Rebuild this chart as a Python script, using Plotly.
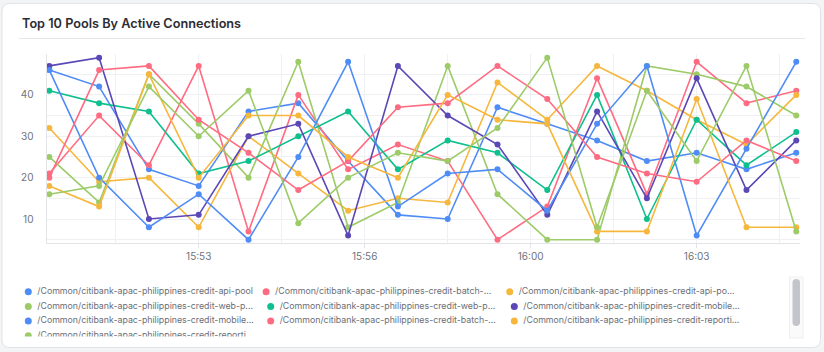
import plotly.graph_objects as go

# ---------------- data ----------------
times = [
    "2024-01-01 15:50:20", "2024-01-01 15:51:20", "2024-01-01 15:52:20", "2024-01-01 15:53:20",
    "2024-01-01 15:54:20", "2024-01-01 15:55:20", "2024-01-01 15:56:20", "2024-01-01 15:57:20",
    "2024-01-01 15:58:20", "2024-01-01 15:59:20", "2024-01-01 16:00:20", "2024-01-01 16:01:20",
    "2024-01-01 16:02:20", "2024-01-01 16:03:20", "2024-01-01 16:04:20", "2024-01-01 16:05:20",
]

series_names = [
    "/Common/citibank-apac-philippines-credit-api-pool",
    "/Common/citibank-apac-philippines-credit-batch-...",
    "/Common/citibank-apac-philippines-credit-api-po...",
    "/Common/citibank-apac-philippines-credit-web-p...",
    "/Common/citibank-apac-philippines-credit-web-p...",
    "/Common/citibank-apac-philippines-credit-mobile...",
    "/Common/citibank-apac-philippines-credit-mobile...",
    "/Common/citibank-apac-philippines-credit-batch-...",
    "/Common/citibank-apac-philippines-credit-reporti...",
    "/Common/citibank-apac-philippines-credit-reporti",
]

s_api_pool     = [46, 42, 22, 18, 36, 38, 24, 11, 10, 37, 33, 29, 24, 26, 22, 26]
s_batch_a      = [21, 35, 23, 47, 7, 40, 22, 28, 24, 5, 13, 44, 16, 48, 38, 41]
s_api_po       = [32, 19, 20, 8, 30, 21, 12, 15, 14, 43, 34, 47, 41, 34, 28, 40]
s_web_a        = [25, 14, 45, 33, 20, 48, 8, 14, 47, 16, 5, 5, 47, 45, 42, 35]
s_web_b        = [41, 38, 36, 21, 24, 30, 36, 22, 29, 26, 17, 40, 10, 34, 23, 31]
s_mobile_a     = [47, 49, 10, 11, 30, 33, 6, 47, 35, 28, 11, 36, 15, 44, 17, 29]
s_mobile_b     = [46, 20, 8, 16, 5, 25, 48, 13, 21, 22, 12, 33, 47, 6, 27, 48]
s_batch_b      = [20, 46, 47, 34, 26, 17, 24, 37, 38, 47, 39, 25, 21, 19, 29, 24]
s_reporting_a  = [18, 13, 45, 20, 35, 35, 25, 20, 40, 34, 33, 7, 7, 39, 8, 8]
s_reporting_b  = [16, 18, 42, 30, 41, 9, 20, 26, 24, 32, 49, 8, 41, 24, 47, 7]

series_values = [s_api_pool, s_batch_a, s_api_po, s_web_a, s_web_b,
                 s_mobile_a, s_mobile_b, s_batch_b, s_reporting_a, s_reporting_b]

x_tick_vals = ["2024-01-01 15:53:20", "2024-01-01 15:56:40", "2024-01-01 16:00:00", "2024-01-01 16:03:20"]
x_tick_text = ["15:53", "15:56", "16:00", "16:03"]
x_minor_vals = ["2024-01-01 15:51:40", "2024-01-01 15:55:00", "2024-01-01 15:58:20",
                "2024-01-01 16:01:40", "2024-01-01 16:05:00"]
y_tick_vals = [10, 20, 30, 40]
y_minor_vals = [5, 15, 25, 35, 45, 50]

title_text = "Top 10 Pools By Active Connections"

# ---------------- style ----------------
W, H = 824, 352
palette = ["#4f8cf6", "#ff6b81", "#f6b73c", "#9ccb68", "#0fbf8e", "#5b47b6"]
colors = [palette[i % len(palette)] for i in range(len(series_values))]
FONT = "Inter, Roboto, sans-serif"
GRID = "#eff0f3"
AXIS = "#e3e4e8"
TICKC = "#70737c"


def px(x):
    return x / W


def py(y):
    return 1 - y / H


fig = go.Figure()

for name, vals, col in zip(series_names, series_values, colors):
    fig.add_trace(go.Scatter(
        x=times, y=vals, name=name, mode="lines+markers",
        line=dict(color=col, width=1.6), marker=dict(color=col, size=6),
        showlegend=False, xaxis="x", yaxis="y",
    ))

# ---------- legend drawn as a clipped, scrollable-looking grid ----------
col_marker_x = [28.3, 270.7, 514.3]
first_row_shift = -4.6
row_y0, row_step = 291.7, 14.7
text_gap = 9.0
leg_mx, leg_my, leg_tx, leg_ty, leg_txt, leg_col = [], [], [], [], [], []
for i, (name, col) in enumerate(zip(series_names, colors)):
    r, c = divmod(i, 3)
    mx = col_marker_x[c] + (first_row_shift if (r == 0 and c > 0) else 0)
    my = row_y0 + r * row_step
    leg_mx.append(mx); leg_my.append(my); leg_col.append(col)
    leg_tx.append(mx + text_gap); leg_ty.append(my); leg_txt.append(name)

fig.add_trace(go.Scatter(
    x=leg_mx, y=leg_my, mode="markers", marker=dict(color=leg_col, size=7),
    showlegend=False, hoverinfo="skip", xaxis="x2", yaxis="y2", cliponaxis=True,
))
fig.add_trace(go.Scatter(
    x=leg_tx, y=leg_ty, mode="text", text=leg_txt, textposition="middle right",
    textfont=dict(family=FONT, size=8.8, color="#6b6e76"),
    showlegend=False, hoverinfo="skip", xaxis="x2", yaxis="y2", cliponaxis=True,
))

# ---------- layout ----------
plot_l, plot_r, plot_t, plot_b = 46.5, 800, 53.5, 243
leg_top, leg_bot = 277, 336.6

shapes = []
# card
cx0, cy0, cx1, cy1, rad = 2, 3.5, 820.5, 347.5, 8
path = (f"M {px(cx0+rad)},{py(cy0)} L {px(cx1-rad)},{py(cy0)} Q {px(cx1)},{py(cy0)} {px(cx1)},{py(cy0+rad)} "
        f"L {px(cx1)},{py(cy1-rad)} Q {px(cx1)},{py(cy1)} {px(cx1-rad)},{py(cy1)} "
        f"L {px(cx0+rad)},{py(cy1)} Q {px(cx0)},{py(cy1)} {px(cx0)},{py(cy1-rad)} "
        f"L {px(cx0)},{py(cy0+rad)} Q {px(cx0)},{py(cy0)} {px(cx0+rad)},{py(cy0)} Z")
shapes.append(dict(type="path", path=path, xref="paper", yref="paper", layer="below",
                   fillcolor="#ffffff", line=dict(color="#e2e3e7", width=1)))
# title separator
shapes.append(dict(type="line", xref="paper", yref="paper", x0=px(19), x1=px(805), y0=py(38.5), y1=py(38.5),
                   line=dict(color="#e6e7eb", width=1), layer="below"))
# scrollbar track + thumb
shapes.append(dict(type="rect", xref="paper", yref="paper", x0=px(789.5), x1=px(803), y0=py(277), y1=py(338),
                   fillcolor="#fafafb", line=dict(color="#efeff2", width=1), layer="above"))
tx0, tx1, ty0, ty1, tr = 792.5, 800, 279, 326, 3.7
tpath = (f"M {px(tx0)},{py(ty0+tr)} Q {px(tx0)},{py(ty0)} {px((tx0+tx1)/2)},{py(ty0)} "
         f"Q {px(tx1)},{py(ty0)} {px(tx1)},{py(ty0+tr)} L {px(tx1)},{py(ty1-tr)} "
         f"Q {px(tx1)},{py(ty1)} {px((tx0+tx1)/2)},{py(ty1)} Q {px(tx0)},{py(ty1)} {px(tx0)},{py(ty1-tr)} Z")
shapes.append(dict(type="path", path=tpath, xref="paper", yref="paper", layer="above",
                   fillcolor="#c3c5cb", line=dict(width=0)))

fig.update_layout(
    width=W, height=H, autosize=False,
    margin=dict(l=0, r=0, t=0, b=0, pad=0),
    paper_bgcolor="#f3f4f6", plot_bgcolor="rgba(0,0,0,0)",
    font=dict(family=FONT, color=TICKC),
    showlegend=False,
    hovermode="closest",
    shapes=shapes,
    annotations=[dict(text=title_text, xref="paper", yref="paper", x=px(19.5), y=py(23.5),
                      xanchor="left", yanchor="middle", showarrow=False,
                      font=dict(family=FONT, size=12.7, color="#2b2d33", weight=600))],
    xaxis=dict(
        domain=[px(plot_l), px(plot_r)], anchor="y",
        type="date", range=["2024-01-01 15:50:16.6", "2024-01-01 16:05:24.5"],
        tickmode="array", tickvals=x_tick_vals, ticktext=x_tick_text,
        showgrid=True, gridcolor=GRID, gridwidth=1,
        minor=dict(tickmode="array", tickvals=x_minor_vals, showgrid=True, gridcolor=GRID, ticks=""),
        showline=True, linecolor=AXIS, linewidth=1,
        ticks="outside", ticklen=4, tickcolor=AXIS,
        tickfont=dict(family=FONT, size=10, color=TICKC),
        zeroline=False, fixedrange=True,
    ),
    yaxis=dict(
        domain=[py(plot_b), py(plot_t)], anchor="x",
        range=[4.2, 50],
        tickmode="array", tickvals=y_tick_vals,
        showgrid=True, gridcolor=GRID, gridwidth=1,
        minor=dict(tickmode="array", tickvals=y_minor_vals, showgrid=True, gridcolor=GRID, ticks=""),
        showline=True, linecolor=AXIS, linewidth=1,
        ticks="", ticklabelstandoff=10,
        tickfont=dict(family=FONT, size=10, color=TICKC),
        zeroline=False, fixedrange=True,
    ),
    xaxis2=dict(domain=[0, 1], anchor="y2", range=[0, W], visible=False, fixedrange=True),
    yaxis2=dict(domain=[py(leg_bot), py(leg_top)], anchor="x2", range=[leg_bot, leg_top],
                visible=False, fixedrange=True),
)

fig.write_html("out.html")
